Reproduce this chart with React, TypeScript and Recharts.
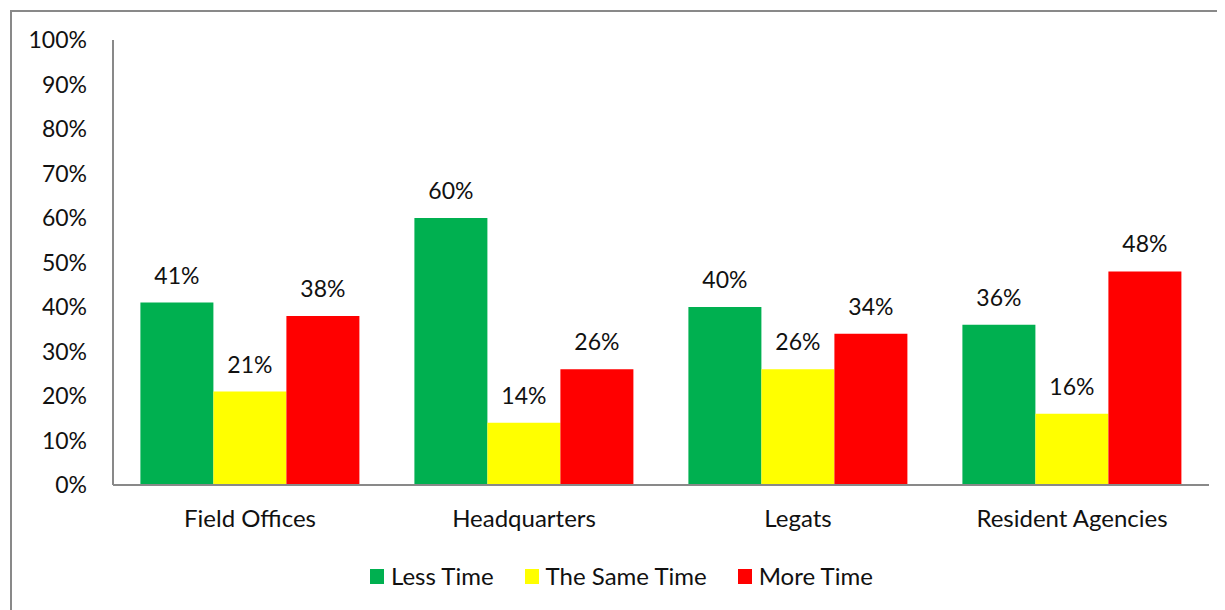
import { Bar, BarChart, LabelList, XAxis, YAxis } from "recharts";

const offices = ["Field Offices", "Headquarters", "Legats", "Resident Agencies"];
const lessTime = [41, 60, 40, 36];
const sameTime = [21, 14, 26, 16];
const moreTime = [38, 26, 34, 48];
const percentTicks = [0, 10, 20, 30, 40, 50, 60, 70, 80, 90, 100];

const series = [
  { key: "less", name: "Less Time", color: "#00B050" },
  { key: "same", name: "The Same Time", color: "#FFFF00" },
  { key: "more", name: "More Time", color: "#FF0000" },
];

const chartData = offices.map((office, i) => ({
  office,
  less: lessTime[i],
  same: sameTime[i],
  more: moreTime[i],
}));

const FONT = "Lato, 'Open Sans', sans-serif";
const AXIS_GRAY = "#898989";
const TEXT = "#111";

export default function App() {
  return (
    <div
      style={{
        position: "relative",
        width: 1217,
        height: 602,
        overflow: "hidden",
        fontFamily: FONT,
      }}
    >
      {/* outer frame, right and bottom edges fall outside the view */}
      <div
        style={{
          position: "absolute",
          left: 2,
          top: 2,
          width: 1230,
          height: 640,
          border: `2px solid ${AXIS_GRAY}`,
        }}
      />
      <BarChart
        width={1217}
        height={602}
        data={chartData}
        margin={{ top: 32, right: 16, bottom: 0, left: 0 }}
        barCategoryGap="10%"
        barGap={0}
        style={{ fontFamily: FONT }}
      >
        <XAxis
          dataKey="office"
          height={125}
          axisLine={{ stroke: AXIS_GRAY, strokeWidth: 2 }}
          tickLine={false}
          tickSize={0}
          tickMargin={25}
          tick={{ fill: TEXT, fontSize: 24 }}
          interval={0}
        />
        <YAxis
          width={105}
          domain={[0, 100]}
          ticks={percentTicks}
          tickFormatter={(v) => `${v}%`}
          axisLine={{ stroke: AXIS_GRAY, strokeWidth: 2 }}
          tickLine={false}
          tickSize={0}
          tickMargin={26}
          tick={{ fill: TEXT, fontSize: 23 }}
          interval={0}
        />
        {series.map((s) => (
          <Bar key={s.key} dataKey={s.key} name={s.name} fill={s.color} isAnimationActive={false}>
            <LabelList
              dataKey={s.key}
              position="top"
              offset={19}
              formatter={(v: number) => `${v}%`}
              style={{ fill: TEXT, fontSize: 23, fontFamily: FONT }}
            />
          </Bar>
        ))}
      </BarChart>
      <div
        style={{
          position: "absolute",
          left: 362,
          top: 554,
          display: "flex",
          alignItems: "center",
          fontSize: 24,
          color: TEXT,
          lineHeight: "28px",
        }}
      >
        {series.map((s) => (
          <div key={s.key} style={{ display: "flex", alignItems: "center", marginRight: 31 }}>
            <span
              style={{
                display: "inline-block",
                width: 14,
                height: 15,
                background: s.color,
                marginRight: 7,
              }}
            />
            <span>{s.name}</span>
          </div>
        ))}
      </div>
    </div>
  );
}
